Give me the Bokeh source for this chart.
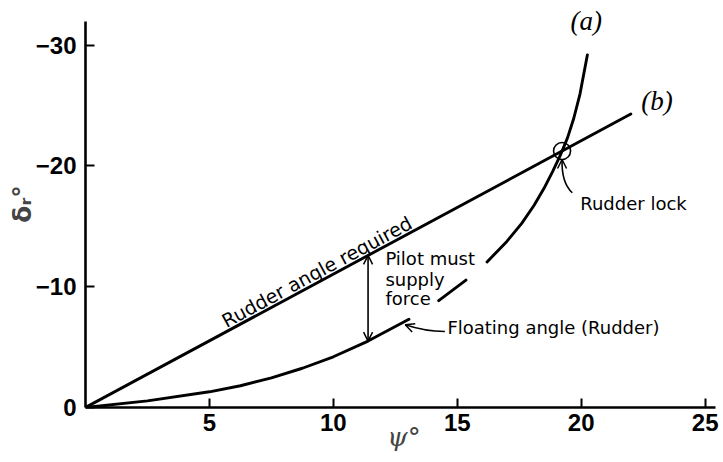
import math
import numpy as np
from bokeh.plotting import figure
from bokeh.models import Range1d, FixedTicker, CustomJSTickFormatter, Arrow, OpenHead
from bokeh.core.properties import value
from bokeh.embed import file_html
from bokeh.resources import INLINE

nan = float("nan")

# Curve (a): floating angle of the rudder (gaps where the printed curve is broken by text)
psi_a = [0, 2.5, 5.0, 6.25, 7.5, 8.75, 10.0, 11.4, 13.05, nan,
         14.25, 15.35, nan,
         16.2, 17.0, 17.6, 18.1, 18.5, 18.85, 19.15, 19.45, 19.7, 19.95, 20.25]
delta_a = [0, -0.55, -1.3, -1.8, -2.45, -3.25, -4.2, -5.5, -7.3, nan,
           -8.85, -10.55, nan,
           -12.05, -13.75, -15.25, -16.75, -18.15, -19.55, -20.85, -22.35, -23.95, -25.95, -29.2]

# Line (b): rudder angle required
psi_b = [0, 22.0]
delta_b = [0, -24.3]

x_ticks = [5, 10, 15, 20, 25]
y_ticks = [0, -10, -20, -30]

X_END, Y_TOP = 25.7, -33.7
W, H = 722, 461
BL, BR, BT, BB = 85, 0, 0, 54

p = figure(width=W, height=H, x_range=Range1d(0, X_END), y_range=Range1d(0, Y_TOP),
           output_backend="svg", toolbar_location=None,
           min_border_left=BL, min_border_right=BR, min_border_top=BT, min_border_bottom=BB)
p.outline_line_color = None
p.grid.visible = False
p.background_fill_color = "white"
p.border_fill_color = "white"

FONT = "Liberation Sans"
TFONT = "DejaVu Sans"

for ax in (p.xaxis, p.yaxis):
    ax.axis_line_width = 2.6
    ax.axis_line_color = "black"
    ax.major_tick_line_width = 2
    ax.major_tick_line_color = "black"
    ax.major_tick_in = 9
    ax.major_tick_out = 0
    ax.minor_tick_line_color = None
    ax.major_label_text_font = FONT
    ax.major_label_text_font_style = "bold"
    ax.major_label_text_font_size = "24px"
    ax.major_label_text_color = "black"

p.xaxis.bounds = (0, 25.4)
p.yaxis.bounds = (-32, 0)
p.xaxis.ticker = FixedTicker(ticks=x_ticks)
p.yaxis.ticker = FixedTicker(ticks=y_ticks)
p.yaxis.formatter = CustomJSTickFormatter(
    code="return tick == 0 ? '0' : '\u2212' + Math.abs(tick);")
p.xaxis.major_label_standoff = 6
p.yaxis.major_label_standoff = 9

p.xaxis.axis_label = "ψ°"
p.xaxis.axis_label_text_font = "DejaVu Serif"
p.xaxis.axis_label_text_font_style = "italic"
p.xaxis.axis_label_text_font_size = "26px"
p.xaxis.axis_label_standoff = -12

p.yaxis.axis_label = "δᵣ°"
p.yaxis.axis_label_text_font = "DejaVu Sans"
p.yaxis.axis_label_text_font_style = "bold"
p.yaxis.axis_label_text_font_size = "25px"
p.yaxis.axis_label_standoff = -4

# Curves
p.line(psi_b, delta_b, line_color="black", line_width=2.9, line_cap="round")
p.line(psi_a, delta_a, line_color="black", line_width=2.9, line_cap="round")

# Intersection ("Rudder lock")
pa = np.array([v for v in psi_a if not math.isnan(v)])
da = np.array([v for v in delta_a if not math.isnan(v)])
grid = np.linspace(pa[0], pa[-1], 4000)
diff = np.interp(grid, pa, da) - np.interp(grid, psi_b, delta_b)
k = np.where((diff[:-1] > 0) & (diff[1:] <= 0))[0][-1]
ix = float(grid[k])
iy = float(np.interp(ix, psi_b, delta_b))
p.scatter([ix], [iy], marker="circle", size=17, fill_color=None,
          line_color="black", line_width=1.6)

# Scale helpers for text angles / offsets
px_x = (W - BL - BR) / X_END
px_y = (H - BT - BB) / abs(Y_TOP)
ang = math.atan(abs(delta_b[1] / psi_b[1]) * px_y / px_x)

# Rudder angle required (along line b)
s0 = 5.75
d_off = 10
p.text(x=[s0], y=[float(np.interp(s0, psi_b, delta_b))], text=["Rudder  angle  required"],
       angle=ang, text_font=value(TFONT), text_font_size="19px", text_color="black",
       text_align="left", text_baseline="alphabetic",
       x_offset=-d_off * math.sin(ang), y_offset=-d_off * math.cos(ang))

# Pilot must supply force: double arrow
s1 = 11.4
up = float(np.interp(s1, psi_b, delta_b))
lo = float(np.interp(s1, pa, da))
p.add_layout(Arrow(start=OpenHead(size=9, line_width=1.5), end=OpenHead(size=9, line_width=1.5),
                   x_start=s1, y_start=up, x_end=s1, y_end=lo, line_width=1.6))
p.text(x=[12.1, 12.1, 12.1], y=[-12.32, -10.59, -9.02], text=["Pilot must", "supply", "force"],
       text_font=value(TFONT), text_font_size="18px", text_color="black",
       text_align="left", text_baseline="middle")

# Floating angle (Rudder)
p.text(x=[14.6], y=[-6.62], text=["Floating angle (Rudder)"],
       text_font=value(TFONT), text_font_size="18px", text_color="black",
       text_align="left", text_baseline="middle")
p.quadratic(x0=[14.5], y0=[-6.29], x1=[12.9], y1=[-6.85], cx=[13.7], cy=[-6.3],
            line_color="black", line_width=1.6)
p.add_layout(Arrow(end=OpenHead(size=9, line_width=1.5), line_alpha=0,
                   x_start=13.3, y_start=-6.55, x_end=12.9, y_end=-6.85))

# Rudder lock
p.text(x=[19.96], y=[-16.87], text=["Rudder lock"],
       text_font=value(TFONT), text_font_size="18px", text_color="black",
       text_align="left", text_baseline="middle")
tip = iy + 8.5 / px_y
p.quadratic(x0=[19.64], y0=[-17.78], x1=[ix], y1=[tip], cx=[19.2], cy=[-18.6],
            line_color="black", line_width=1.6)
p.add_layout(Arrow(end=OpenHead(size=9, line_width=1.5), line_alpha=0,
                   x_start=ix, y_start=tip + 0.5, x_end=ix, y_end=tip))

# Curve labels
p.text(x=[20.2, 23.06], y=[-32.0, -25.4], text=["(a)", "(b)"],
       text_font=value("Liberation Serif"), text_font_style="italic", text_font_size="27px",
       text_color="black", text_align="center", text_baseline="middle")

open("out.html", "w").write(file_html(p, INLINE))
